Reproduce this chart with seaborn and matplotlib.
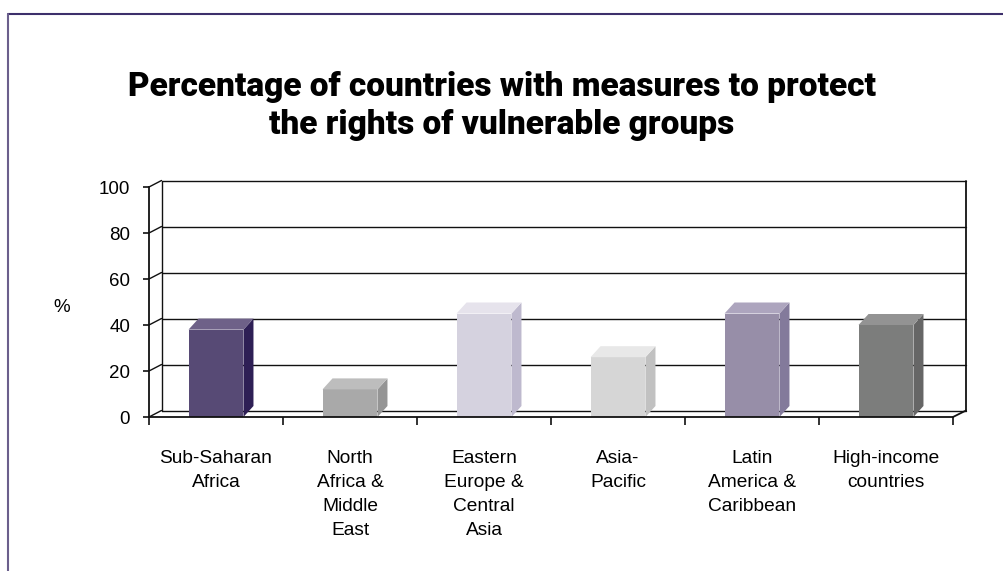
import matplotlib
matplotlib.use("Agg")
import matplotlib.pyplot as plt
from matplotlib.patches import Polygon
from matplotlib.lines import Line2D
import seaborn as sns

# Data
regions = ["Sub-Saharan\nAfrica", "North\nAfrica &\nMiddle\nEast", "Eastern\nEurope &\nCentral\nAsia",
           "Asia-\nPacific", "Latin\nAmerica &\nCaribbean", "High-income\ncountries"]
values = [38, 12, 45, 26, 45, 40]
y_ticks = [0, 20, 40, 60, 80, 100]

front_colors = ["#574a75", "#a9a9a9", "#d5d2df", "#d6d6d6", "#978ea8", "#7c7d7c"]
side_colors = ["#2e1f55", "#959595", "#beb9ce", "#c1c1c1", "#837a9b", "#666666"]
top_colors = ["#6e6188", "#bdbdbd", "#e6e3ec", "#e8e8e8", "#ada5be", "#939393"]

sns.set_theme(style="white")
plt.rcParams["font.family"] = ["Liberation Sans", "DejaVu Sans"]
plt.rcParams["text.color"] = "black"

W, H = 1004, 571
fig = plt.figure(figsize=(W / 100, H / 100), dpi=100)

# plot area in pixels: front axis x=149..953, y 0 -> 417px, 100 -> 187px
px_cat = 134.0
px_val = 2.3
left_px, right_px, bottom_px, top_px = 149, 966, 417, 180
ax = fig.add_axes([left_px / W, 1 - bottom_px / H, (right_px - left_px) / W, (bottom_px - top_px) / H])
ax.set_facecolor("none")

sns.barplot(x=regions, y=values, hue=regions, palette=front_colors, legend=False,
            width=0.41, saturation=1, linewidth=0, ax=ax, zorder=3)

xmin = -0.5
xmax = xmin + (right_px - left_px) / px_cat
ymax = (bottom_px - top_px) / px_val
ax.set_xlim(xmin, xmax)
ax.set_ylim(0, ymax)

# depth offsets in data units
wdx, wdy = 12.5 / px_cat, 6.5 / px_val
bdx, bdy = 10 / px_cat, 11 / px_val
n = len(regions)
lc = "#111111"

# back wall gridlines and left diagonals
for v in y_ticks:
    ax.plot([xmin + wdx, xmax], [v + wdy, v + wdy], color=lc, lw=1, zorder=1, clip_on=False)
    ax.plot([xmin, xmin + wdx], [v, v + wdy], color=lc, lw=1, zorder=1, clip_on=False)
ax.plot([xmin + wdx, xmin + wdx], [wdy, 100 + wdy], color=lc, lw=1, zorder=1, clip_on=False)
ax.plot([xmax, xmax], [wdy, 100 + wdy], color=lc, lw=1.3, zorder=1, clip_on=False)
# floor right edge
ax.plot([n - 0.5, xmax], [0, wdy], color=lc, lw=1.3, zorder=1, clip_on=False)

# 3D faces of the bars
for i, v in enumerate(values):
    x0, x1 = i - 0.205, i + 0.205
    side = [(x1, 0), (x1 + bdx, bdy), (x1 + bdx, v + bdy), (x1, v)]
    top = [(x0, v), (x1, v), (x1 + bdx, v + bdy), (x0 + bdx, v + bdy)]
    ax.add_patch(Polygon(side, closed=True, facecolor=side_colors[i], edgecolor="none", zorder=3))
    ax.add_patch(Polygon(top, closed=True, facecolor=top_colors[i], edgecolor="none", zorder=3))

# spines / ticks
for s in ["top", "right"]:
    ax.spines[s].set_visible(False)
ax.spines["left"].set_bounds(0, 100)
ax.spines["bottom"].set_bounds(-0.5, n - 0.5)
for s in ["left", "bottom"]:
    ax.spines[s].set_color(lc)
    ax.spines[s].set_linewidth(1.3)
    ax.spines[s].set_zorder(4)

ax.set_yticks(y_ticks)
ax.set_yticklabels([str(t) for t in y_ticks])
ax.tick_params(axis="y", direction="out", length=4.5, width=1.2, color=lc, pad=9,
               labelsize=13.5, labelcolor="black", left=True)
ax.set_xticks(range(n))
ax.set_xticklabels(regions)
ax.set_xticks([i - 0.5 for i in range(n + 1)], minor=True)
ax.tick_params(axis="x", which="major", length=0, pad=24, labelsize=13.8, labelcolor="black")
ax.tick_params(axis="x", which="minor", direction="out", length=6, width=1.2, color=lc, bottom=True)
for lbl in ax.get_xticklabels():
    lbl.set_linespacing(1.52)
ax.set_xlabel("")
ax.set_ylabel("")

fig.text(62 / W, 1 - 307 / H, "%", ha="center", va="center", fontsize=13.5, color="black")

fig.text(0.5, 1 - 106 / H, "Percentage of countries with measures to protect\nthe rights of vulnerable groups",
         ha="center", va="center", fontsize=24, fontweight="black", color="black",
         family=["Roboto", "DejaVu Sans"], linespacing=1.25)

# outer frame
fig.add_artist(Line2D([8 / W, 1], [1 - 13.5 / H, 1 - 13.5 / H], transform=fig.transFigure,
                      color="#3d2f6b", lw=1.5))
fig.add_artist(Line2D([8 / W, 8 / W], [0, 1 - 13.5 / H], transform=fig.transFigure,
                      color="#6b5f8c", lw=1.5))

fig.savefig("out.png", dpi=100)
